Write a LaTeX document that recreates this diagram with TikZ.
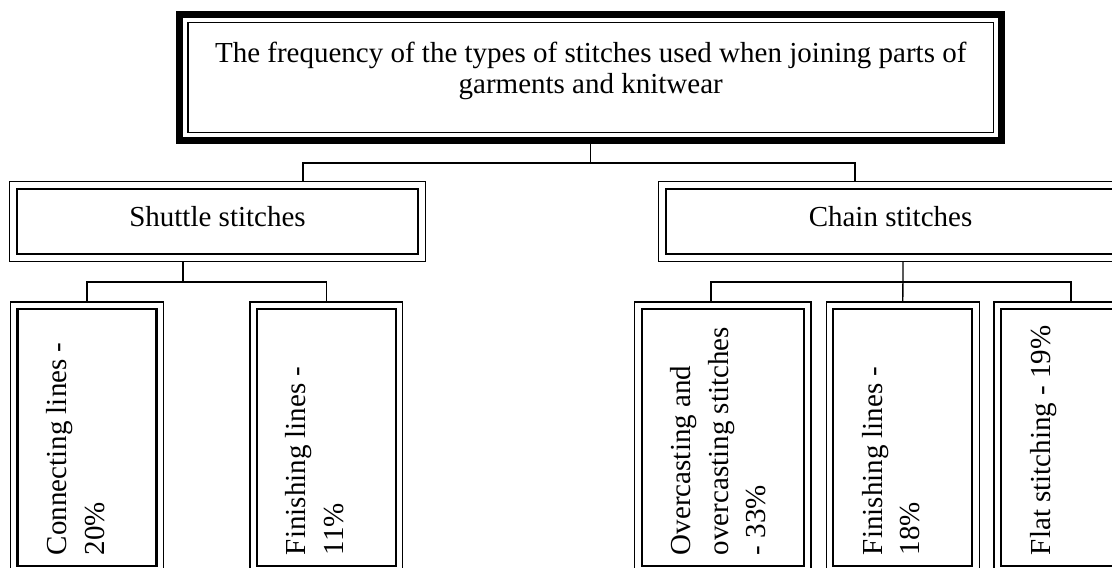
\documentclass[tikz,border=0pt]{standalone}
\usepackage{fontspec}
\setmainfont{Liberation Serif}
\usepackage{graphicx}
\usetikzlibrary{backgrounds}

% rotated, top-aligned text for the tall boxes: #1 length (page height), #2 thickness (page width)
\newcommand{\uptext}[3]{%
  \rotatebox{90}{\parbox[c][#2][t]{#1}{\raggedright\leftskip=11pt
    \fontsize{29pt}{37.5pt}\selectfont\vspace*{29pt}#3\par}}}

\tikzset{
  conn/.style={draw=black, line width=1.3pt},
  titlebox/.style={draw=black, fill=white, line width=1.5pt, inner sep=0pt},
  titleframe/.style={draw=black, fill=white, line width=7pt},
  groupbox/.style={draw=black, fill=white, line width=2.2pt, inner sep=0pt,
    minimum height=65.6pt, text height=20pt, text depth=10pt,
    font=\fontsize{29pt}{34pt}\selectfont},
  leafbox/.style={draw=black, fill=white, line width=2.2pt, inner sep=0pt},
  thinframe/.style={draw=black, fill=white, line width=1.3pt},
}

\begin{document}
\begin{tikzpicture}[x=1pt, y=-1pt]
\useasboundingbox (0,0) rectangle (1112,568);

% heading
\node[titlebox] (top) at (590.75,77.5) {\parbox[c][110pt][t]{805.5pt}{\centering
  \fontsize{29pt}{30.5pt}\selectfont\vspace*{19.6pt}The frequency of the types of stitches used when joining parts of\\ garments and knitwear\par}};

% two groups
\node[groupbox, minimum width=401.6pt] (shuttle) at (217.5,221.5) {Shuttle stitches};
\node[groupbox, minimum width=449.6pt] (chain) at (890.5,221.5) {Chain stitches};

% leaves
\node[leafbox] (connl) at (87,437.5) {\uptext{257pt}{139pt}{Connecting lines -\\ 20\%}};
\node[leafbox] (finl) at (326.25,437.5) {\uptext{257pt}{139pt}{Finishing lines -\\ 11\%}};
\node[leafbox] (overl) at (722.85,437.5) {\uptext{257pt}{162.3pt}{Overcasting and overcasting stitches\\ - 33\%}};
\node[leafbox] (finc) at (902.8,437.5) {\uptext{257pt}{139pt}{Finishing lines -\\ 18\%}};
\node[leafbox] (flat) at (1070.5,437.5) {\uptext{257pt}{139pt}{Flat stitching - 19\%}};

% junction points of the tree
\coordinate (sdrop) at (303,163);
\coordinate (cdrop) at (855,163);
\coordinate (sj) at (183,282);
\coordinate (cj) at (903,282);
\coordinate (cl) at (711,282);
\coordinate (cr) at (1071,282);

\begin{scope}[on background layer]
  \fill[white] (0,0) rectangle (1112,568);
  % connectors
  \draw[conn] (top.south) -- (top.south |- sdrop);
  \draw[conn] (sdrop |- shuttle.north) -- (sdrop) -- (cdrop) -- (cdrop |- chain.north);
  \draw[conn] (sj |- shuttle.south) -- (sj);
  \draw[conn] (connl.north) |- (sj) -| (finl.north);
  \draw[conn] (cj |- chain.south) -- (finc.north);
  \draw[conn] (cl |- overl.north) -- (cl) -- (cr) -- (cr |- flat.north);
  % outer frames
  \draw[titleframe] ([shift={(-7.5pt,7.5pt)}]top.north west) rectangle ([shift={(7.5pt,-7.5pt)}]top.south east);
  \foreach \n in {shuttle,chain}
    \draw[thinframe] ([shift={(-6.2pt,6.2pt)}]\n.north west) rectangle ([shift={(6.2pt,-6.2pt)}]\n.south east);
  \foreach \n in {connl,finl,overl,finc,flat}
    \draw[thinframe] ([shift={(-5.8pt,5.8pt)}]\n.north west) rectangle ([shift={(5.8pt,-5.8pt)}]\n.south east);
\end{scope}
\end{tikzpicture}
\end{document}
